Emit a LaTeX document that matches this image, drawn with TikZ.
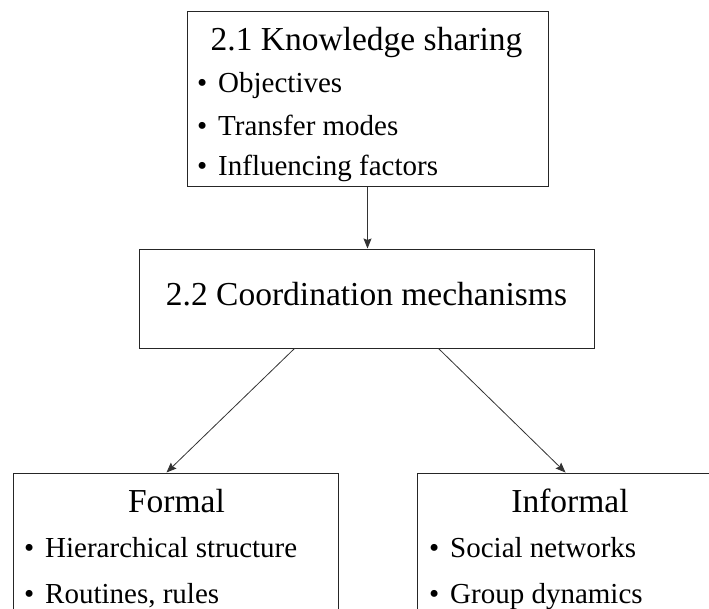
\documentclass[tikz,border=0pt]{standalone}
\usepackage{fontspec}
\setmainfont{Liberation Serif}
\usetikzlibrary{arrows.meta}

\tikzset{
  box/.style={draw=black!85, line width=1pt, rectangle, inner sep=0pt},
  head/.style={anchor=base, inner sep=0pt, font=\fontsize{33.5}{40}\selectfont},
  item/.style={anchor=base west, inner sep=0pt, font=\fontsize{29}{34}\selectfont},
  link/.style={draw=black!80, line width=0.8pt, -{Stealth[length=10pt,width=8pt,inset=1.5pt]}}
}
\newcommand{\bul}{\llap{•\hspace{11pt}}}

\begin{document}
\begin{tikzpicture}[x=1pt,y=-1pt]
  \useasboundingbox (0,0) rectangle (709,608);

  % boxes
  \node[box, minimum width=361pt, minimum height=175pt] (share) at (367.5,98.5) {};
  \node[box, minimum width=455pt, minimum height=99pt]  (coord) at (366.5,298.5) {};
  \node[box, minimum width=325pt, minimum height=175pt] (formal) at (175.5,560.5) {};
  \node[box, minimum width=306pt, minimum height=175pt] (informal) at (570,560.5) {};

  % 2.1 Knowledge sharing
  \node[head] (shareT) at (366.5,50) {2.1 Knowledge sharing};
  \node[item] (s1) at (218,92)  {\bul Objectives};
  \node[item] (s2) at (218,135) {\bul Transfer modes};
  \node[item] (s3) at (218,175) {\bul Influencing factors};

  % 2.2 Coordination mechanisms
  \node[head] (coordT) at (366.5,305) {2.2 Coordination mechanisms};

  % Formal
  \node[head] (formalT) at (176.5,512) {Formal};
  \node[item] (f1) at (45,557) {\bul Hierarchical structure};
  \node[item] (f2) at (45,603) {\bul Routines, rules};

  % Informal
  \node[head] (informalT) at (570,512) {Informal};
  \node[item] (i1) at (450,557) {\bul Social networks};
  \node[item] (i2) at (450,603) {\bul Group dynamics};

  % connectors
  \draw[link] (share.south) -- (share.south |- coord.north);
  \draw[link] ([xshift=156pt]coord.south west) -- ([xshift=154pt]formal.north west);
  \draw[link] ([xshift=300pt]coord.south west) -- ([xshift=149pt]informal.north west);
\end{tikzpicture}
\end{document}
